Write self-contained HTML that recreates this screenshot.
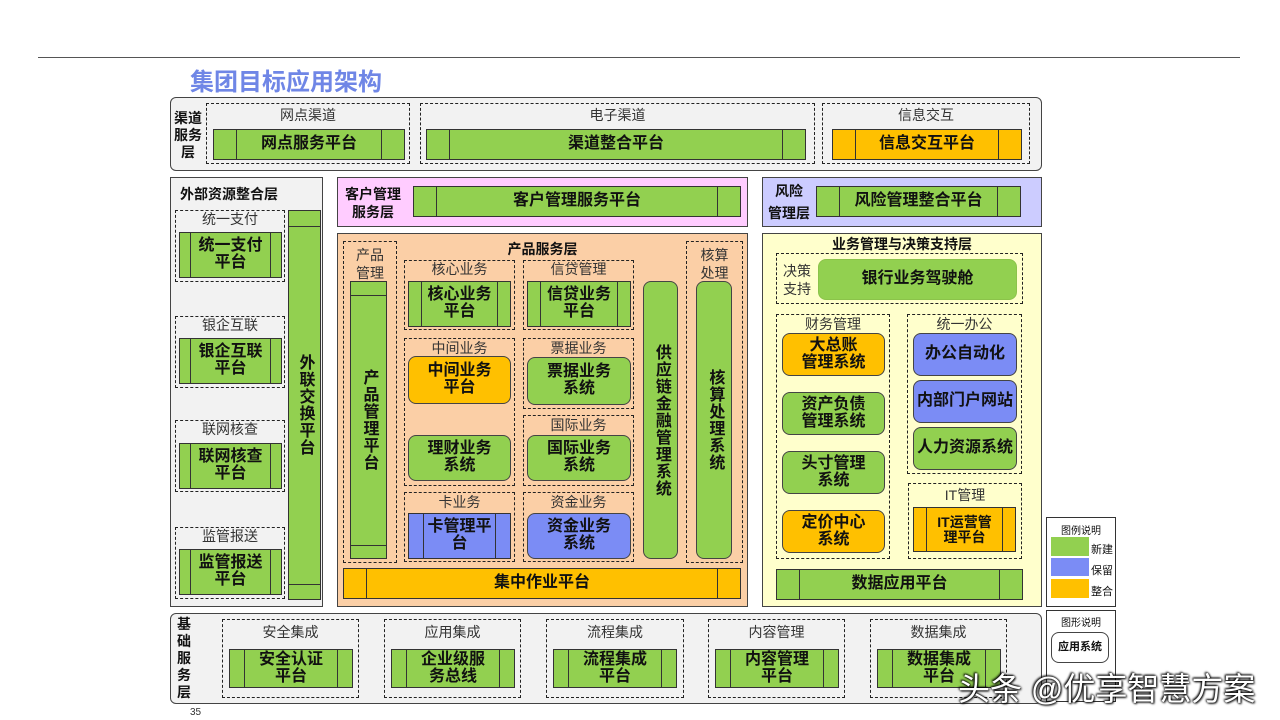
<!DOCTYPE html>
<html><head><meta charset="utf-8"><style>
*{margin:0;padding:0;box-sizing:border-box}
body{width:1280px;height:720px;background:#fff;position:relative;overflow:hidden;font-family:"Liberation Sans","Noto Sans CJK SC",sans-serif;color:#111}
div{position:absolute}
.layer{border:1.5px solid #444}
.r{border-radius:6px}
.d{border:1.3px dashed #222}
.pf{border:1.3px solid #333;display:flex;align-items:center;justify-content:center;font-weight:bold;text-align:center;line-height:1.05}
.pf::before,.pf::after{content:"";position:absolute;top:0;bottom:0;width:0;border-left:1.3px solid #333}
.pf::before{left:var(--i,22px)}.pf::after{right:var(--i,22px)}
.sys{border:1.5px solid #444;border-radius:8px;display:flex;align-items:center;justify-content:center;font-weight:bold;text-align:center;line-height:1.05}
.g{background:#92d050}.b{background:#7b8cf5}.y{background:#ffc000}
.lbl{text-align:center;font-size:14px;color:#333;line-height:1}
.bt{font-weight:bold}
.v{writing-mode:vertical-rl;letter-spacing:1px}
</style></head><body>
<div style="left:38px;top:57px;width:1202px;height:1px;background:#555"></div>
<div style="left:190px;top:62px;font-size:24px;font-weight:bold;color:#6f86e6">集团目标应用架构</div>

<!-- channel layer -->
<div class="layer r" style="left:170px;top:97px;width:872px;height:74px;background:#f2f2f2"></div>
<div class="bt" style="left:172px;top:110px;font-size:14px;line-height:17px;text-align:center;width:32px">渠道<br>服务<br>层</div>
<div class="d" style="left:206px;top:103px;width:204px;height:61px"></div>
<div class="lbl" style="left:206px;top:108px;width:204px">网点渠道</div>
<div class="pf g" style="left:213px;top:129px;width:192px;height:31px;font-size:16px">网点服务平台</div>
<div class="d" style="left:420px;top:103px;width:395px;height:61px"></div>
<div class="lbl" style="left:420px;top:108px;width:395px">电子渠道</div>
<div class="pf g" style="left:426px;top:129px;width:380px;height:31px;font-size:16px">渠道整合平台</div>
<div class="d" style="left:822px;top:103px;width:208px;height:61px"></div>
<div class="lbl" style="left:822px;top:108px;width:208px">信息交互</div>
<div class="pf y" style="left:832px;top:129px;width:190px;height:31px;font-size:16px">信息交互平台</div>

<!-- external -->
<div class="layer" style="left:170px;top:177px;width:153px;height:430px;background:#f2f2f2"></div>
<div class="bt" style="left:180px;top:184px;font-size:14px">外部资源整合层</div>
<div class="d" style="left:175px;top:210px;width:110px;height:72px"></div>
<div class="lbl" style="left:175px;top:212px;width:110px">统一支付</div>
<div class="pf g" style="left:179px;top:232px;width:103px;height:46px;font-size:16px;--i:10px">统一支付<br>平台</div>
<div class="d" style="left:175px;top:316px;width:110px;height:72px"></div>
<div class="lbl" style="left:175px;top:318px;width:110px">银企互联</div>
<div class="pf g" style="left:179px;top:338px;width:103px;height:46px;font-size:16px;--i:10px">银企互联<br>平台</div>
<div class="d" style="left:175px;top:420px;width:110px;height:72px"></div>
<div class="lbl" style="left:175px;top:422px;width:110px">联网核查</div>
<div class="pf g" style="left:179px;top:443px;width:103px;height:46px;font-size:16px;--i:10px">联网核查<br>平台</div>
<div class="d" style="left:175px;top:527px;width:110px;height:72px"></div>
<div class="lbl" style="left:175px;top:529px;width:110px">监管报送</div>
<div class="pf g" style="left:179px;top:549px;width:103px;height:46px;font-size:16px;--i:10px">监管报送<br>平台</div>
<div class="g" style="left:288px;top:210px;width:33px;height:390px;border:1.3px solid #333;display:flex;align-items:center;justify-content:center"><span class="v bt" style="font-size:16px">外联交换平台</span></div>
<div style="left:288px;top:226px;width:33px;height:1px;background:#333"></div>
<div style="left:288px;top:584px;width:33px;height:1px;background:#333"></div>

<!-- customer -->
<div class="layer" style="left:337px;top:177px;width:411px;height:50px;background:#ffccff"></div>
<div class="bt" style="left:340px;top:185px;font-size:14px;line-height:18px;text-align:center;width:66px">客户管理<br>服务层</div>
<div class="pf g" style="left:413px;top:186px;width:328px;height:31px;font-size:16px">客户管理服务平台</div>
<!-- risk -->
<div class="layer" style="left:762px;top:177px;width:280px;height:50px;background:#ccccff"></div>
<div class="bt" style="left:764px;top:180px;font-size:14px;line-height:22px;width:50px;text-align:center">风险<br>管理层</div>
<div class="pf g" style="left:816px;top:186px;width:205px;height:31px;font-size:16px">风险管理整合平台</div>

<!-- product -->
<div class="layer" style="left:337px;top:233px;width:411px;height:374px;background:#fbcfa6"></div>
<div class="bt" style="left:337px;top:239px;width:411px;text-align:center;font-size:14px">产品服务层</div>
<div class="d" style="left:343px;top:241px;width:54px;height:322px"></div>
<div class="lbl" style="left:343px;top:246px;width:54px;line-height:18px">产品<br>管理</div>
<div class="g" style="left:350px;top:281px;width:37px;height:278px;border:1.3px solid #333;display:flex;align-items:center;justify-content:center"><span class="v bt" style="font-size:16px">产品管理平台</span></div>
<div style="left:350px;top:295px;width:37px;height:1px;background:#333"></div>
<div style="left:350px;top:545px;width:37px;height:1px;background:#333"></div>

<div class="d" style="left:404px;top:260px;width:111px;height:70px"></div>
<div class="lbl" style="left:404px;top:262px;width:111px">核心业务</div>
<div class="pf g" style="left:408px;top:281px;width:103px;height:46px;font-size:16px;--i:12px">核心业务<br>平台</div>
<div class="d" style="left:523px;top:260px;width:111px;height:70px"></div>
<div class="lbl" style="left:523px;top:262px;width:111px">信贷管理</div>
<div class="pf g" style="left:527px;top:281px;width:104px;height:46px;font-size:16px;--i:12px">信贷业务<br>平台</div>

<div class="d" style="left:404px;top:338px;width:111px;height:148px"></div>
<div class="lbl" style="left:404px;top:341px;width:111px">中间业务</div>
<div class="sys y" style="left:408px;top:356px;width:103px;height:48px;font-size:16px">中间业务<br>平台</div>
<div class="sys g" style="left:408px;top:435px;width:103px;height:46px;font-size:16px">理财业务<br>系统</div>
<div class="d" style="left:523px;top:338px;width:111px;height:71px"></div>
<div class="lbl" style="left:523px;top:341px;width:111px">票据业务</div>
<div class="sys g" style="left:527px;top:357px;width:104px;height:48px;font-size:16px">票据业务<br>系统</div>
<div class="d" style="left:523px;top:415px;width:111px;height:71px"></div>
<div class="lbl" style="left:523px;top:418px;width:111px">国际业务</div>
<div class="sys g" style="left:527px;top:435px;width:104px;height:46px;font-size:16px">国际业务<br>系统</div>

<div class="d" style="left:404px;top:492px;width:111px;height:70px"></div>
<div class="lbl" style="left:404px;top:495px;width:111px">卡业务</div>
<div class="pf b" style="left:408px;top:513px;width:103px;height:46px;font-size:16px;--i:14px">卡管理平<br>台</div>
<div class="d" style="left:523px;top:492px;width:111px;height:70px"></div>
<div class="lbl" style="left:523px;top:495px;width:111px">资金业务</div>
<div class="sys b" style="left:527px;top:513px;width:104px;height:46px;font-size:16px">资金业务<br>系统</div>

<div class="sys g" style="left:643px;top:281px;width:35px;height:278px"><span class="v" style="font-size:16px">供应链金融管理系统</span></div>
<div class="d" style="left:686px;top:241px;width:57px;height:322px"></div>
<div class="lbl" style="left:686px;top:246px;width:57px;line-height:18px">核算<br>处理</div>
<div class="sys g" style="left:696px;top:281px;width:36px;height:278px"><span class="v" style="font-size:16px">核算处理系统</span></div>
<div class="pf y" style="left:343px;top:568px;width:398px;height:31px;font-size:16px">集中作业平台</div>

<!-- business mgmt -->
<div class="layer" style="left:762px;top:233px;width:280px;height:374px;background:#ffffcc"></div>
<div class="bt" style="left:762px;top:234px;width:280px;text-align:center;font-size:14px">业务管理与决策支持层</div>
<div class="d" style="left:776px;top:253px;width:247px;height:51px"></div>
<div class="lbl" style="left:778px;top:262px;width:38px;line-height:18px">决策<br>支持</div>
<div class="sys g" style="left:818px;top:259px;width:199px;height:41px;font-size:16px;border-color:#8bc34a">银行业务驾驶舱</div>
<div class="d" style="left:776px;top:314px;width:114px;height:245px"></div>
<div class="lbl" style="left:776px;top:317px;width:114px">财务管理</div>
<div class="sys y" style="left:782px;top:333px;width:103px;height:43px;font-size:16px">大总账<br>管理系统</div>
<div class="sys g" style="left:782px;top:392px;width:103px;height:43px;font-size:16px">资产负债<br>管理系统</div>
<div class="sys g" style="left:782px;top:451px;width:103px;height:43px;font-size:16px">头寸管理<br>系统</div>
<div class="sys y" style="left:782px;top:510px;width:103px;height:43px;font-size:16px">定价中心<br>系统</div>
<div class="d" style="left:907px;top:314px;width:115px;height:160px"></div>
<div class="lbl" style="left:907px;top:317px;width:115px">统一办公</div>
<div class="sys b" style="left:913px;top:333px;width:104px;height:43px;font-size:16px">办公自动化</div>
<div class="sys b" style="left:913px;top:380px;width:104px;height:43px;font-size:16px">内部门户网站</div>
<div class="sys g" style="left:913px;top:427px;width:104px;height:43px;font-size:16px">人力资源系统</div>
<div class="d" style="left:908px;top:483px;width:114px;height:76px"></div>
<div class="lbl" style="left:908px;top:488px;width:114px">IT管理</div>
<div class="pf y" style="left:913px;top:507px;width:103px;height:45px;font-size:14px;--i:12px">IT运营管<br>理平台</div>
<div class="pf g" style="left:776px;top:569px;width:247px;height:31px;font-size:16px">数据应用平台</div>

<!-- legend -->
<div style="left:1046px;top:517px;width:70px;height:90px;border:1.3px solid #333;background:#fff"></div>
<div style="left:1046px;top:522px;width:70px;text-align:center;font-size:10px">图例说明</div>
<div class="g" style="left:1051px;top:537px;width:38px;height:19px"></div>
<div class="b" style="left:1051px;top:558px;width:38px;height:18px"></div>
<div class="y" style="left:1051px;top:579px;width:38px;height:19px"></div>
<div style="left:1091px;top:541px;font-size:11px">新建</div>
<div style="left:1091px;top:562px;font-size:11px">保留</div>
<div style="left:1091px;top:583px;font-size:11px">整合</div>
<div style="left:1046px;top:610px;width:70px;height:92px;border:1.3px solid #333;background:#fff"></div>
<div style="left:1046px;top:614px;width:70px;text-align:center;font-size:10px">图形说明</div>
<div class="sys" style="left:1051px;top:632px;width:58px;height:31px;font-size:11px;background:#fff">应用系统</div>

<!-- base -->
<div class="layer r" style="left:170px;top:613px;width:872px;height:91px;background:#f2f2f2"></div>
<div class="bt" style="left:172px;top:616px;width:24px;font-size:14px;line-height:17px;text-align:center">基<br>础<br>服<br>务<br>层</div>
<div class="d" style="left:222px;top:619px;width:137px;height:79px"></div>
<div class="lbl" style="left:222px;top:625px;width:137px">安全集成</div>
<div class="pf g" style="left:229px;top:649px;width:124px;height:39px;font-size:16px;--i:14px">安全认证<br>平台</div>
<div class="d" style="left:384px;top:619px;width:137px;height:79px"></div>
<div class="lbl" style="left:384px;top:625px;width:137px">应用集成</div>
<div class="pf g" style="left:391px;top:649px;width:124px;height:39px;font-size:16px;--i:14px">企业级服<br>务总线</div>
<div class="d" style="left:546px;top:619px;width:138px;height:79px"></div>
<div class="lbl" style="left:546px;top:625px;width:138px">流程集成</div>
<div class="pf g" style="left:553px;top:649px;width:124px;height:39px;font-size:16px;--i:14px">流程集成<br>平台</div>
<div class="d" style="left:708px;top:619px;width:137px;height:79px"></div>
<div class="lbl" style="left:708px;top:625px;width:137px">内容管理</div>
<div class="pf g" style="left:715px;top:649px;width:124px;height:39px;font-size:16px;--i:14px">内容管理<br>平台</div>
<div class="d" style="left:870px;top:619px;width:137px;height:79px"></div>
<div class="lbl" style="left:870px;top:625px;width:137px">数据集成</div>
<div class="pf g" style="left:877px;top:649px;width:124px;height:39px;font-size:16px;--i:14px">数据集成<br>平台</div>

<div style="left:190px;top:707px;font-size:10px;color:#333">35</div>
<div style="left:958px;top:664px;font-size:32px;color:#fff;text-shadow:0 0 2px #000,1px 1px 2px #000,-1px -1px 2px #000">头条 @优享智慧方案</div>
</body></html>
